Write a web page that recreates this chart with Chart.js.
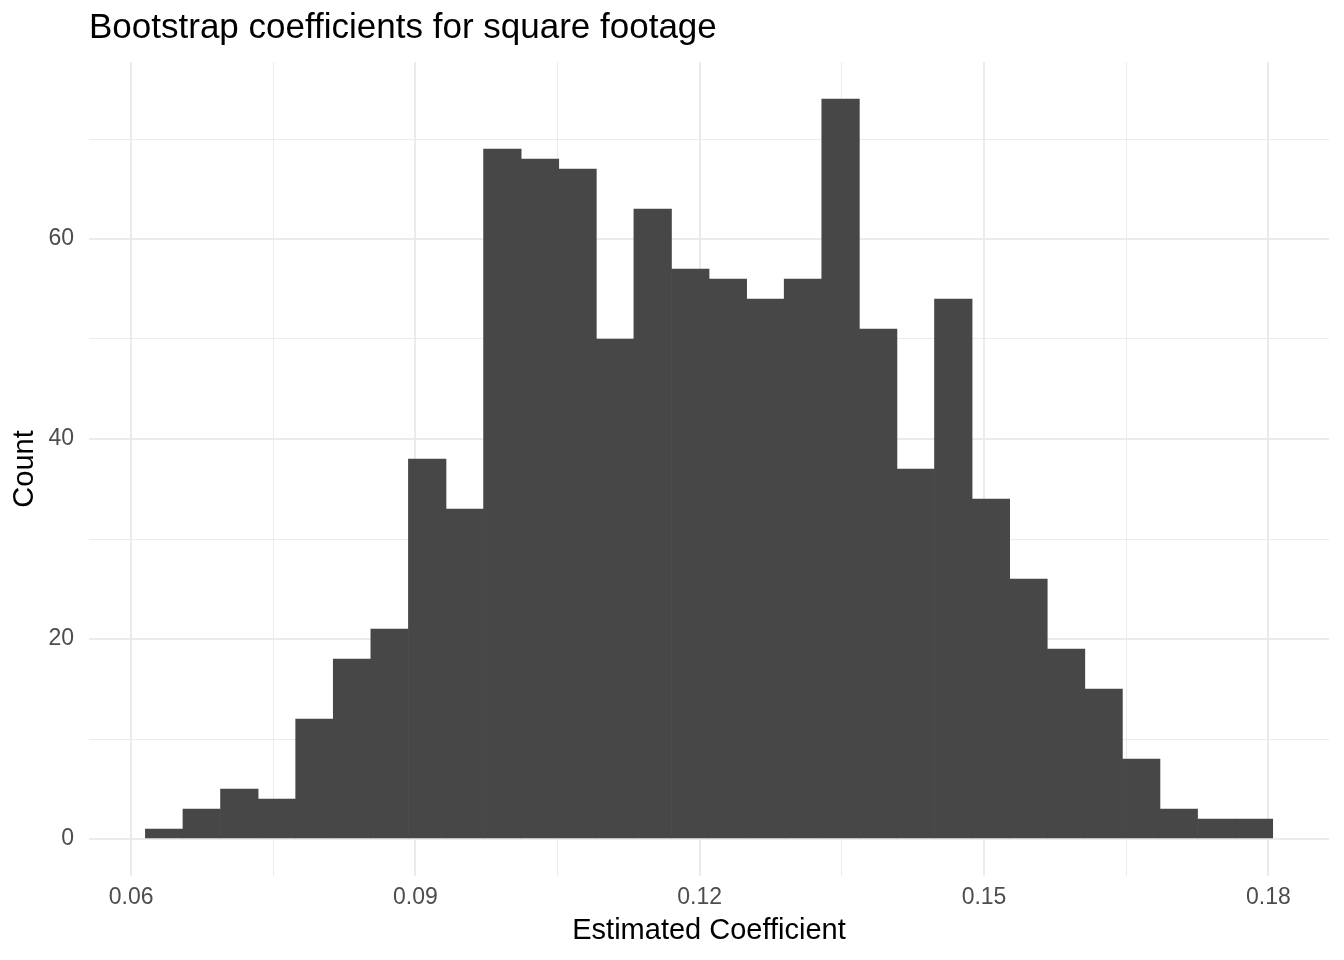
<!DOCTYPE html>
<html>
<head>
<meta charset="utf-8">
<title>Bootstrap coefficients for square footage</title>
<script src="https://cdn.jsdelivr.net/npm/chart.js@4.4.1/dist/chart.umd.min.js"></script>
<style>
  html, body { margin: 0; padding: 0; background: #fff; }
  #wrap { width: 1344px; height: 960px; }
</style>
</head>
<body>
<div id="wrap"><canvas id="histChart" width="1344" height="960"></canvas></div>
<script>
// histogram counts, 30 bins
const counts = [1, 3, 5, 4, 12, 18, 21, 38, 33, 69,
                68, 67, 50, 63, 57, 56, 54, 56, 74, 51,
                37, 54, 34, 26, 19, 15, 8, 3, 2, 2];
const binStart = 0.06151;   // left edge of first bin
const binWidth = 0.003965;  // width of each bin

const xMajorTicks = [0.06, 0.09, 0.12, 0.15, 0.18];
const xMinorTicks = [0.075, 0.105, 0.135, 0.165];
const yMajorTicks = [0, 20, 40, 60];
const yMinorTicks = [10, 30, 50, 70];

// bar centre = middle of each bin
const binCenters = counts.map((c, i) => binStart + (i + 0.5) * binWidth);
const points = binCenters.map((x, i) => ({ x: x, y: counts[i] }));

const fontFamily = "'Liberation Sans', Arial, Helvetica, sans-serif";
const gridColor = '#EBEBEB';

function isMajor(list, c) {
  return c.tick !== undefined && list.includes(c.tick.value);
}

const ctx = document.getElementById('histChart');

new Chart(ctx, {
  type: 'bar',
  data: {
    datasets: [{
      data: points,
      backgroundColor: '#474747',
      borderWidth: 0,
      barPercentage: 1,
      categoryPercentage: 1
    }]
  },
  options: {
    responsive: false,
    animation: false,
    devicePixelRatio: 1,
    layout: { padding: { left: 0, right: 15, top: 0, bottom: 0 } },
    plugins: {
      legend: { display: false },
      tooltip: { enabled: false },
      title: {
        display: true,
        text: 'Bootstrap coefficients for square footage',
        align: 'start',
        fullSize: false,
        color: '#000',
        font: { family: fontFamily, size: 35, weight: 'normal', lineHeight: 1.2 },
        padding: { top: 7, bottom: 13 }
      }
    },
    scales: {
      x: {
        type: 'linear',
        offset: false,
        min: 0.05556,
        max: 0.1864,
        afterBuildTicks: (scale) => {
          scale.ticks = xMajorTicks.concat(xMinorTicks).sort((a, b) => a - b).map(v => ({ value: v }));
        },
        afterFit: (scale) => { scale.height = 84; },
        border: { display: false },
        grid: {
          offset: false,
          drawTicks: false,
          color: gridColor,
          lineWidth: (c) => isMajor(xMajorTicks, c) ? 2 : 1
        },
        ticks: {
          autoSkip: false,
          maxRotation: 0,
          padding: 8,
          color: '#4D4D4D',
          font: { family: fontFamily, size: 23 },
          callback: (v) => xMajorTicks.includes(v) ? v.toFixed(2) : ''
        },
        title: {
          display: true,
          text: 'Estimated Coefficient',
          color: '#000',
          font: { family: fontFamily, size: 29 },
          padding: { top: 0, bottom: 12 }
        }
      },
      y: {
        min: -3.7,
        max: 77.7,
        afterBuildTicks: (scale) => {
          scale.ticks = yMajorTicks.concat(yMinorTicks).sort((a, b) => a - b).map(v => ({ value: v }));
        },
        afterFit: (scale) => { scale.width = 89; },
        border: { display: false },
        grid: {
          drawTicks: false,
          color: gridColor,
          lineWidth: (c) => isMajor(yMajorTicks, c) ? 2 : 1
        },
        ticks: {
          autoSkip: false,
          padding: 15,
          color: '#4D4D4D',
          font: { family: fontFamily, size: 23 },
          callback: (v) => yMajorTicks.includes(v) ? String(v) : ''
        },
        title: {
          display: true,
          text: 'Count',
          color: '#000',
          font: { family: fontFamily, size: 29 },
          padding: { top: 8, bottom: 0 }
        }
      }
    }
  }
});
</script>
</body>
</html>
